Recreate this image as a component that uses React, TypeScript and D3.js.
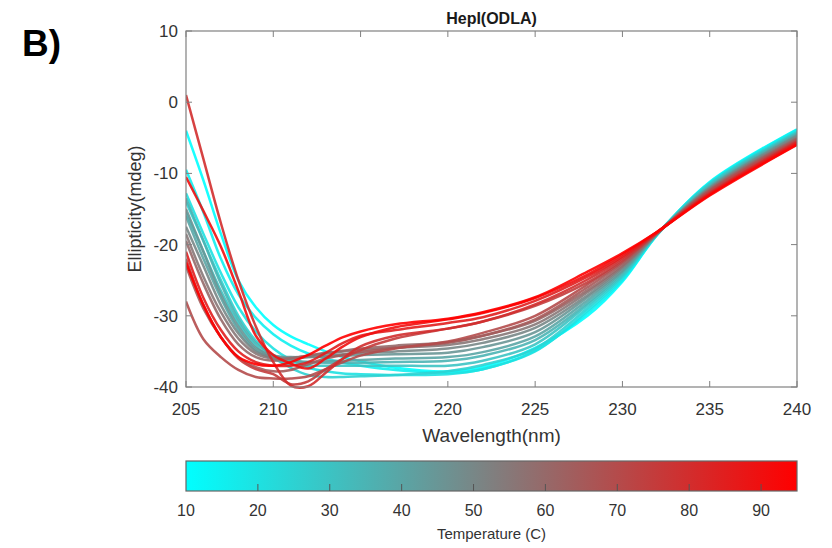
import { useEffect, useRef } from 'react';
import * as d3 from 'd3';

const width = 832;
const height = 548;
const [ml, mt, mr, mb] = [186, 31, 35, 161];
const plotW = width - ml - mr;
const plotH = height - mt - mb;

// wavelength grid (nm)
const wavelengths = [205, 206, 207, 208, 209, 210, 211, 212, 213, 214, 215, 217, 220, 222, 225, 228, 230, 232, 235, 240];

// temperatures (C) of each scan
const temperatures = [10, 15, 20, 25, 30, 35, 40, 45, 50, 55, 60, 65, 70, 75, 80, 85, 90, 95];

// ellipticity (mdeg), one row per temperature
const t10 = [-4, -11, -18.5, -25, -28.8, -31.3, -32.9, -34, -35, -35.8, -36.4, -37.3, -37.8, -37.2, -34.5, -30, -25.2, -18.6, -11.2, -3.8];
const t15 = [-9.5, -15.5, -22, -27, -30.3, -32.6, -34.2, -35.3, -36, -36.6, -37, -37.6, -38, -37.5, -34.9, -29.6, -25, -18.6, -11.3, -3.9];
const t20 = [-12.8, -18.5, -24, -28.8, -32.2, -34.6, -36.2, -37.3, -37.8, -38.1, -38.2, -38.3, -38.2, -37.5, -35, -29.3, -24.7, -18.5, -11.4, -4.1];
const t25 = [-14, -19.5, -25, -30, -33.5, -35.8, -37.3, -38.3, -38.6, -38.6, -38.5, -38.3, -37.8, -36.9, -34.6, -28.9, -24.5, -18.5, -11.5, -4.2];
const t30 = [-15.5, -21, -26.5, -31, -34.2, -36, -36.8, -37, -37, -37, -37, -37, -37, -36.3, -34, -28.5, -24.3, -18.5, -11.6, -4.3];
const t35 = [-13.5, -19.5, -25.5, -30.5, -33.8, -35.5, -36.2, -36.5, -36.6, -36.6, -36.6, -36.5, -36.3, -35.6, -33.4, -28.2, -24, -18.5, -11.8, -4.4];
const t40 = [-16, -22, -27.5, -32, -34.8, -36, -36.4, -36.5, -36.4, -36.3, -36.2, -36, -35.8, -35.1, -32.9, -27.8, -23.8, -18.5, -11.9, -4.6];
const t45 = [-15, -21, -27, -31.5, -34.5, -35.6, -35.8, -35.8, -35.7, -35.6, -35.5, -35.4, -35.2, -34.4, -32.3, -27.4, -23.6, -18.4, -12, -4.7];
const t50 = [-17.5, -23, -28.5, -32.5, -35, -35.8, -36, -35.8, -35.6, -35.4, -35.2, -35, -34.6, -33.8, -31.7, -27.1, -23.3, -18.4, -12.1, -4.8];
const t55 = [-18.5, -24.5, -29.5, -33.2, -35.3, -36, -35.9, -35.6, -35.3, -35, -34.8, -34.5, -34.1, -33.3, -31.2, -26.7, -23.1, -18.4, -12.2, -5];
const t60 = [-19.5, -25.5, -30.5, -34, -35.8, -36.3, -36, -35.6, -35.2, -34.9, -34.6, -34.2, -33.7, -32.8, -30.7, -26.4, -22.9, -18.4, -12.3, -5.1];
const t65 = [-23, -29, -33, -35.8, -37.2, -37.8, -37.6, -36.8, -36, -35.5, -35.1, -34.5, -33.8, -32.8, -30.5, -26, -22.6, -18.3, -12.4, -5.2];
const t70 = [-28, -33.3, -35.8, -37.6, -38.6, -38.8, -38.8, -38.5, -37.5, -36.5, -35.6, -34.6, -33.6, -32.4, -30, -25.6, -22.4, -18.3, -12.5, -5.4];
const t75 = [-22, -28.5, -33, -36, -37.5, -38.2, -39.6, -39.2, -37.5, -36, -34.8, -33.2, -31.8, -30.8, -28.6, -25.3, -22.2, -18.3, -12.7, -5.5];
const t80 = [1, -8, -17, -25, -31.5, -36.5, -39.8, -39.9, -38, -36, -34.3, -32.8, -31.8, -30.8, -28.4, -24.9, -21.9, -18.3, -12.8, -5.6];
const t85 = [-21, -27.5, -32, -35, -36.5, -37, -37, -36.5, -35.2, -33.8, -32.8, -32, -31, -30.2, -27.9, -24.5, -21.7, -18.2, -12.9, -5.7];
const t90 = [-10.5, -15.3, -20.3, -26.5, -32.8, -35.5, -36.7, -37.4, -36, -34.3, -33, -31.6, -30.5, -29.6, -27.5, -24.2, -21.4, -18.2, -13, -5.9];
const t95 = [-22.5, -28.5, -33, -35.8, -36.8, -37, -36.5, -35.5, -34.2, -33, -32.2, -31.2, -30.4, -29.5, -27.4, -23.8, -21.2, -18.2, -13.1, -6];
const scans = [t10, t15, t20, t25, t30, t35, t40, t45, t50, t55, t60, t65, t70, t75, t80, t85, t90, t95];

const xTicks = [205, 210, 215, 220, 225, 230, 235, 240];
const yTicks = [-40, -30, -20, -10, 0, 10];
const cbTicks = [10, 20, 30, 40, 50, 60, 70, 80, 90];

const font = '"Liberation Sans", Arial, Helvetica, sans-serif';
const axisColor = '#808080';
const textColor = '#333333';

function App() {
    const ref = useRef<SVGSVGElement>(null);

    useEffect(() => {
        const svg = d3.select(ref.current);
        svg.selectAll('*').remove();

        const x = d3.scaleLinear().domain([205, 240]).range([ml, ml + plotW]);
        const y = d3.scaleLinear().domain([-40, 10]).range([mt + plotH, mt]);
        // cyan -> gray -> red
        const color = d3
            .scaleLinear<string>()
            .domain([10, 52.5, 95])
            .range(['#00ffff', '#808080', '#ff0000'])
            .interpolate(d3.interpolateRgb);

        svg.append('rect').attr('width', width).attr('height', height).attr('fill', '#fff');

        svg.append('text')
            .attr('x', 22)
            .attr('y', 56)
            .attr('font-family', font)
            .attr('font-weight', 'bold')
            .attr('font-size', 37)
            .attr('fill', '#000')
            .text('B)');

        const clip = svg.append('defs').append('clipPath').attr('id', 'plot-clip');
        clip.append('rect').attr('x', ml).attr('y', mt - 2).attr('width', plotW).attr('height', plotH + 4);

        // curves
        const line = d3
            .line<number>()
            .x((_, i) => x(wavelengths[i]))
            .y((d) => y(d))
            .curve(d3.curveCatmullRom.alpha(0.5));

        svg.append('g')
            .attr('clip-path', 'url(#plot-clip)')
            .selectAll('path')
            .data(scans)
            .join('path')
            .attr('d', (d) => line(d))
            .attr('fill', 'none')
            .attr('stroke', (_, i) => color(temperatures[i]))
            .attr('stroke-width', 2.5)
            .attr('stroke-linejoin', 'round')
            .attr('opacity', 0.9);

        // axes box
        const axes = svg.append('g');
        axes.append('rect')
            .attr('x', ml)
            .attr('y', mt)
            .attr('width', plotW)
            .attr('height', plotH)
            .attr('fill', 'none')
            .attr('stroke', axisColor)
            .attr('stroke-width', 1.2);

        const tl = 6;
        xTicks.forEach((t) => {
            axes.append('line')
                .attr('x1', x(t)).attr('x2', x(t))
                .attr('y1', mt + plotH).attr('y2', mt + plotH - tl)
                .attr('stroke', axisColor);
            axes.append('line')
                .attr('x1', x(t)).attr('x2', x(t))
                .attr('y1', mt).attr('y2', mt + tl)
                .attr('stroke', axisColor);
            axes.append('text')
                .attr('x', x(t))
                .attr('y', mt + plotH + 28)
                .attr('text-anchor', 'middle')
                .attr('font-family', font)
                .attr('font-size', 17)
                .attr('fill', textColor)
                .text(t);
        });
        yTicks.forEach((t) => {
            axes.append('line')
                .attr('x1', ml).attr('x2', ml + tl)
                .attr('y1', y(t)).attr('y2', y(t))
                .attr('stroke', axisColor);
            axes.append('line')
                .attr('x1', ml + plotW).attr('x2', ml + plotW - tl)
                .attr('y1', y(t)).attr('y2', y(t))
                .attr('stroke', axisColor);
            axes.append('text')
                .attr('x', ml - 8)
                .attr('y', y(t) + 6)
                .attr('text-anchor', 'end')
                .attr('font-family', font)
                .attr('font-size', 17)
                .attr('fill', textColor)
                .text(t);
        });

        svg.append('text')
            .attr('x', ml + plotW / 2)
            .attr('y', 24)
            .attr('text-anchor', 'middle')
            .attr('font-family', font)
            .attr('font-weight', 'bold')
            .attr('font-size', 16)
            .attr('fill', '#1a1a1a')
            .text('HepI(ODLA)');

        svg.append('text')
            .attr('x', ml + plotW / 2)
            .attr('y', 442)
            .attr('text-anchor', 'middle')
            .attr('font-family', font)
            .attr('font-size', 19)
            .attr('fill', textColor)
            .text('Wavelength(nm)');

        svg.append('text')
            .attr('transform', `translate(141, ${mt + plotH / 2}) rotate(-90)`)
            .attr('text-anchor', 'middle')
            .attr('font-family', font)
            .attr('font-size', 18)
            .attr('fill', textColor)
            .text('Ellipticity(mdeg)');

        // colorbar
        const cbTop = 461;
        const cbH = 30;
        const cx = d3.scaleLinear().domain([10, 95]).range([ml, ml + plotW]);
        const grad = svg.select('defs').append('linearGradient').attr('id', 'cb-grad');
        d3.range(0, 18).forEach((i) => {
            const t = 10 + (85 * i) / 17;
            grad.append('stop')
                .attr('offset', `${(i / 17) * 100}%`)
                .attr('stop-color', color(t));
        });
        svg.append('rect')
            .attr('x', ml)
            .attr('y', cbTop)
            .attr('width', plotW)
            .attr('height', cbH)
            .attr('fill', 'url(#cb-grad)')
            .attr('stroke', '#666')
            .attr('stroke-width', 1.2);
        cbTicks.forEach((t) => {
            if (t > 10) {
                svg.append('line')
                    .attr('x1', cx(t)).attr('x2', cx(t))
                    .attr('y1', cbTop + cbH).attr('y2', cbTop + cbH - 7)
                    .attr('stroke', '#555');
            }
            svg.append('text')
                .attr('x', cx(t))
                .attr('y', 516)
                .attr('text-anchor', 'middle')
                .attr('font-family', font)
                .attr('font-size', 16)
                .attr('fill', textColor)
                .text(t);
        });
        svg.append('text')
            .attr('x', ml + plotW / 2)
            .attr('y', 539)
            .attr('text-anchor', 'middle')
            .attr('font-family', font)
            .attr('font-size', 15)
            .attr('fill', textColor)
            .text('Temperature (C)');
    }, []);

    return (
        <svg
            ref={ref}
            width={width}
            height={height}
            style={{ position: 'absolute', left: 0, top: 0, display: 'block' }}
        />
    );
}

export default App;
